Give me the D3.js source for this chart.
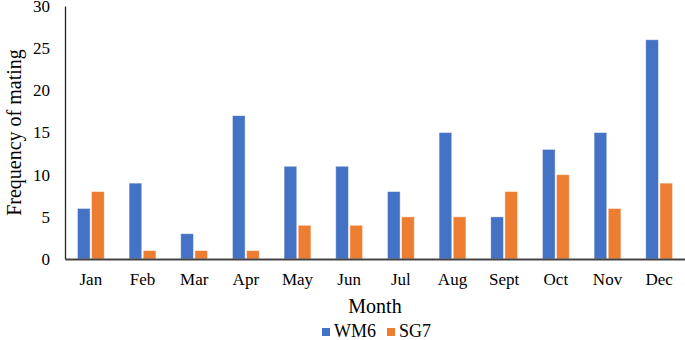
<!DOCTYPE html>
<html>
<head>
<meta charset="utf-8">
<script src="https://cdn.jsdelivr.net/npm/d3@7"></script>
<style>
  body { margin: 0; background: #fff; }
  text { font-family: "Liberation Serif", "Times New Roman", serif; fill: #000; }
</style>
</head>
<body>
<div class="canvas"></div>
<script>
const months = ['Jan', 'Feb', 'Mar', 'Apr', 'May', 'Jun', 'Jul', 'Aug', 'Sept', 'Oct', 'Nov', 'Dec']
const seriesNames = ['WM6', 'SG7']
const wm6 = [6, 9, 3, 17, 11, 11, 8, 15, 5, 13, 15, 26]
const sg7 = [8, 1, 1, 1, 4, 4, 5, 5, 8, 10, 6, 9]
const yTicks = [0, 5, 10, 15, 20, 25, 30]

const colors = { WM6: '#4472C4', SG7: '#ED7D31' }

const dims = { width: 685, height: 340 }
const margins = { top: 6, right: 0, bottom: 81, left: 65 }

const svg = d3.select('.canvas')
    .append('svg')
    .attr('width', dims.width)
    .attr('height', dims.height)

const graphDims = {
    width: dims.width - margins.left - margins.right,
    height: dims.height - margins.top - margins.bottom
}

const graph = svg.append('g')
    .attr('transform', `translate(${margins.left}, ${margins.top})`)

// Scales
const x = d3.scaleBand()
    .domain(months)
    .range([0, graphDims.width])
    .paddingInner(0.48)
    .paddingOuter(0.24)

const xSub = d3.scaleBand()
    .domain(seriesNames)
    .range([0, x.bandwidth()])
    .paddingInner(0.1)

const y = d3.scaleLinear()
    .domain([0, 30])
    .range([graphDims.height, 0])

const data = months.map((m, i) => ({ month: m, WM6: wm6[i], SG7: sg7[i] }))

// bars
const groups = graph.selectAll('g.month')
    .data(data)
    .enter().append('g')
    .attr('class', 'month')
    .attr('transform', d => `translate(${x(d.month)}, 0)`)

groups.selectAll('rect')
    .data(d => seriesNames.map(s => ({ key: s, value: d[s] })))
    .enter().append('rect')
    .attr('x', d => xSub(d.key))
    .attr('y', d => y(d.value))
    .attr('width', xSub.bandwidth())
    .attr('height', d => graphDims.height - y(d.value))
    .attr('fill', d => colors[d.key])
    .attr('stroke', '#fff')
    .attr('stroke-opacity', 0.6)
    .attr('stroke-width', 0.8)

// Axes
const yAxis = graph.append('g')
    .call(d3.axisLeft(y).tickValues(yTicks).tickSize(0).tickPadding(15))
yAxis.select('.domain').attr('stroke', '#222').attr('stroke-width', 1.3)
yAxis.selectAll('text').attr('font-size', 17).attr('font-family', 'Liberation Serif')

const xAxis = graph.append('g')
    .attr('transform', `translate(0, ${graphDims.height})`)
    .call(d3.axisBottom(x).tickSize(0).tickPadding(14))
xAxis.select('.domain').attr('stroke', '#444').attr('stroke-width', 2)
xAxis.selectAll('text').attr('font-size', 17).attr('font-family', 'Liberation Serif')

// axis titles
svg.append('text')
    .attr('transform', `translate(16, ${margins.top + graphDims.height / 2}) rotate(-90)`)
    .attr('text-anchor', 'middle')
    .attr('dominant-baseline', 'middle')
    .attr('font-size', 20)
    .text('Frequency of mating')

svg.append('text')
    .attr('x', margins.left + graphDims.width / 2)
    .attr('y', 313)
    .attr('text-anchor', 'middle')
    .attr('font-size', 20)
    .text('Month')

// legend
const legend = svg.append('g')
    .attr('transform', 'translate(322, 331)')

const legendItems = legend.selectAll('g')
    .data(seriesNames)
    .enter().append('g')
    .attr('transform', (d, i) => `translate(${i * 65}, 0)`)

legendItems.append('rect')
    .attr('x', 0)
    .attr('y', -3)
    .attr('width', 8)
    .attr('height', 8)
    .attr('fill', d => colors[d])

legendItems.append('text')
    .attr('x', 12)
    .attr('y', 0)
    .attr('dominant-baseline', 'central')
    .attr('font-size', 18)
    .text(d => d)
</script>
</body>
</html>
